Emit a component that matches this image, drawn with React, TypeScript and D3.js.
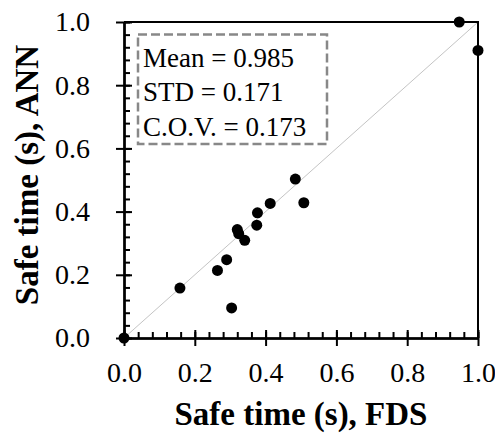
import { useEffect, useRef } from 'react'
import * as d3 from 'd3'

// values: safe time, FDS vs ANN
const fdsValues = [0.0, 0.158, 0.264, 0.29, 0.304, 0.32, 0.324, 0.341, 0.375, 0.377, 0.413, 0.484, 0.508, 0.947, 1.0]
const annValues = [0.0, 0.158, 0.214, 0.248, 0.095, 0.343, 0.33, 0.309, 0.357, 0.396, 0.426, 0.503, 0.428, 1.0, 0.91]
const majorTicks = [0, 0.2, 0.4, 0.6, 0.8, 1.0]
const minorTicks = d3.range(0, 26).map(i => i * 0.04)
const statLines = ['Mean = 0.985', 'STD = 0.171', 'C.O.V. = 0.173']

const W = 495
const H = 435

export default function App() {
  const svgRef = useRef<SVGSVGElement>(null)

  useEffect(() => {
    const svg = d3.select(svgRef.current)
    svg.selectAll('*').remove()

    const x = d3.scaleLinear().domain([0, 1]).range([124, 478])
    const y = d3.scaleLinear().domain([0, 1]).range([338, 22])
    const font = "'Liberation Serif', 'Times New Roman', serif"

    // 1:1 line
    svg.append('line')
      .attr('x1', x(0)).attr('y1', y(0))
      .attr('x2', x(1)).attr('y2', y(1))
      .attr('stroke', '#c4c4c4')
      .attr('stroke-width', 1)

    // frame top/right
    svg.append('path')
      .attr('d', `M${x(0)},${y(1)}H${x(1)}V${y(0)}`)
      .attr('fill', 'none')
      .attr('stroke', '#000')
      .attr('stroke-width', 2)

    const styleAxis = (g: any) => {
      g.attr('font-family', null)
      g.select('.domain').attr('stroke', '#000').attr('stroke-width', 2)
      g.selectAll('.tick line').attr('stroke', '#000').attr('stroke-width', 2)
    }

    // minor ticks (inward)
    svg.append('g')
      .attr('transform', `translate(0,${y(0)})`)
      .call(d3.axisBottom(x).tickValues(minorTicks).tickSize(-6).tickSizeOuter(0).tickFormat(() => ''))
      .call(styleAxis)
    svg.append('g')
      .attr('transform', `translate(${x(0)},0)`)
      .call(d3.axisLeft(y).tickValues(minorTicks).tickSize(-6).tickSizeOuter(0).tickFormat(() => ''))
      .call(styleAxis)

    // major ticks inward
    svg.append('g')
      .attr('transform', `translate(0,${y(0)})`)
      .call(d3.axisBottom(x).tickValues(majorTicks).tickSize(-8).tickSizeOuter(0).tickFormat(() => ''))
      .call(styleAxis)
    svg.append('g')
      .attr('transform', `translate(${x(0)},0)`)
      .call(d3.axisLeft(y).tickValues(majorTicks).tickSize(-8).tickSizeOuter(0).tickFormat(() => ''))
      .call(styleAxis)

    // major ticks outward with labels
    const xAxis = svg.append('g')
      .attr('transform', `translate(0,${y(0)})`)
      .call(d3.axisBottom(x).tickValues(majorTicks).tickSize(8).tickSizeOuter(0).tickPadding(16).tickFormat(d3.format('.1f')))
      .call(styleAxis)
    xAxis.selectAll('text')
      .style('font-family', font).attr('font-size', 28).attr('fill', '#000')

    const yAxis = svg.append('g')
      .attr('transform', `translate(${x(0)},0)`)
      .call(d3.axisLeft(y).tickValues(majorTicks).tickSize(8).tickSizeOuter(0).tickPadding(26).tickFormat(d3.format('.1f')))
      .call(styleAxis)
    yAxis.selectAll('text')
      .style('font-family', font).attr('font-size', 28).attr('fill', '#000')

    // points
    svg.append('g')
      .selectAll('circle')
      .data(fdsValues.map((v, i) => [v, annValues[i]]))
      .join('circle')
      .attr('cx', d => x(d[0]))
      .attr('cy', d => y(d[1]))
      .attr('r', 5.5)
      .attr('fill', '#000')

    // stats box
    svg.append('rect')
      .attr('x', 138).attr('y', 34.5)
      .attr('width', 189).attr('height', 109.5)
      .attr('fill', 'none')
      .attr('stroke', '#888')
      .attr('stroke-width', 2.5)
      .attr('stroke-dasharray', '9,4')

    svg.append('g')
      .selectAll('text')
      .data(statLines)
      .join('text')
      .attr('x', 143)
      .attr('y', (_, i) => 67 + i * 34.3)
      .style('font-family', font)
      .attr('font-size', 27)
      .attr('fill', '#000')
      .text(d => d)

    // axis titles
    svg.append('text')
      .attr('x', 301).attr('y', 425)
      .attr('text-anchor', 'middle')
      .style('font-family', font)
      .attr('font-size', 33)
      .attr('font-weight', 'bold')
      .text('Safe time (s), FDS')

    svg.append('text')
      .attr('transform', `translate(38,${(y(0) + y(1)) / 2 - 5}) rotate(-90)`)
      .attr('text-anchor', 'middle')
      .style('font-family', font)
      .attr('font-size', 33)
      .attr('font-weight', 'bold')
      .text('Safe time (s), ANN')
  }, [])

  return (
    <svg
      ref={svgRef}
      width={W}
      height={H}
      style={{ position: 'absolute', left: 0, top: 0, background: '#fff' }}
    />
  )
}
